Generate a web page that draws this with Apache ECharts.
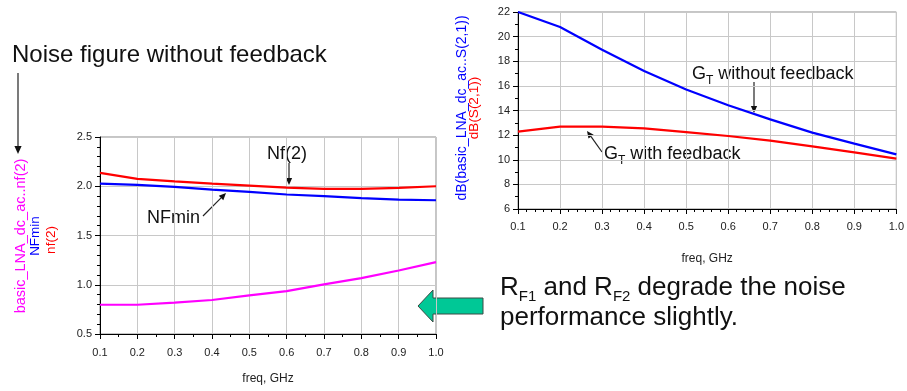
<!DOCTYPE html>
<html>
<head>
<meta charset="utf-8">
<script src="https://cdn.jsdelivr.net/npm/echarts@6/dist/echarts.min.js"></script>
<style>
  html, body { margin: 0; padding: 0; background: #fff; }
  #chart { width: 907px; height: 391px; }
</style>
</head>
<body>
<div id="chart"></div>
<script>
// 频率点 (GHz)
const freq = [0.1, 0.2, 0.3, 0.4, 0.5, 0.6, 0.7, 0.8, 0.9, 1.0];

// 左图：噪声系数
const nfFeedback = [2.135, 2.074, 2.05, 2.027, 2.007, 1.986, 1.973, 1.973, 1.983, 2.0]; // nf(2)
const nfMin = [2.027, 2.014, 1.993, 1.966, 1.943, 1.916, 1.9, 1.88, 1.865, 1.858];     // NFmin
const nfNoFeedback = [0.797, 0.797, 0.818, 0.845, 0.892, 0.936, 1.003, 1.068, 1.145, 1.23];

// 右图：增益 dB(S21)
const gtNoFeedback = [22.0, 20.78, 18.94, 17.2, 15.7, 14.42, 13.28, 12.2, 11.31, 10.44];
const gtFeedback = [12.28, 12.69, 12.69, 12.55, 12.25, 11.93, 11.55, 11.09, 10.6, 10.09];

const FONT = 'Liberation Sans, Arial, sans-serif';
const pairs = arr => freq.map((f, i) => [f, arr[i]]);

const chart = echarts.init(document.getElementById('chart'));

function xAxisCfg(gridIndex, minorSplit, labelMargin, nameGap) {
  return {
    type: 'value', gridIndex, min: 0.1, max: 1.0, interval: 0.1,
    name: 'freq, GHz', nameLocation: 'middle', nameGap,
    nameTextStyle: { color: '#222', fontSize: 12, fontFamily: FONT },
    axisLine: { show: true, onZero: false, lineStyle: { color: '#000', width: 1 } },
    axisTick: { show: true, length: 5, lineStyle: { color: '#000' } },
    minorTick: { show: true, splitNumber: minorSplit, length: 3, lineStyle: { color: '#000' } },
    axisLabel: { color: '#222', fontSize: 11, fontFamily: FONT, margin: labelMargin,
      formatter: v => v.toFixed(1) },
    splitLine: { show: true, lineStyle: { color: '#c8c8c8', width: 1 } }
  };
}

function yAxisCfg(gridIndex, min, max, interval, minorSplit, fmt) {
  return {
    type: 'value', gridIndex, min, max, interval,
    axisLine: { show: true, lineStyle: { color: '#000', width: 1 } },
    axisTick: { show: true, length: 5, lineStyle: { color: '#000' } },
    minorTick: { show: true, splitNumber: minorSplit, length: 3, lineStyle: { color: '#000' } },
    axisLabel: { color: '#222', fontSize: 11, fontFamily: FONT, margin: 8, formatter: fmt },
    splitLine: { show: true, lineStyle: { color: '#c8c8c8', width: 1 } }
  };
}

function lineSeries(data, color, xi, yi) {
  return {
    type: 'line', xAxisIndex: xi, yAxisIndex: yi, data,
    symbol: 'none', smooth: false, silent: true,
    lineStyle: { color, width: 2.2 }
  };
}

// 注释箭头
function arrow(x1, y1, x2, y2, head) {
  head = head || 7;
  const a = Math.atan2(y2 - y1, x2 - x1);
  const w = head * 0.45;
  const bx = x2 - head * Math.cos(a), by = y2 - head * Math.sin(a);
  return [
    { type: 'line', shape: { x1, y1, x2: bx, y2: by }, style: { stroke: '#222', lineWidth: 1.2 } },
    { type: 'polygon', shape: { points: [
      [x2, y2],
      [bx + w * Math.sin(a), by - w * Math.cos(a)],
      [bx - w * Math.sin(a), by + w * Math.cos(a)]
    ] }, style: { fill: '#111' } }
  ];
}

// 按基线摆放文字，支持下标
const measureCtx = document.createElement('canvas').getContext('2d');
function textWidth(text, size) {
  measureCtx.font = size + 'px ' + FONT;
  return measureCtx.measureText(text).width;
}
function textLine(x, baseline, parts, size, subSize, drop, color) {
  const out = [];
  let cx = x;
  parts.forEach(p => {
    const isSub = Array.isArray(p);
    const t = isSub ? p[0] : p;
    const s = isSub ? subSize : size;
    const b = isSub ? baseline + drop : baseline;
    out.push({
      type: 'text', x: cx, y: b - 0.35 * s,
      style: { text: t, fill: color || '#111', font: s + 'px ' + FONT, verticalAlign: 'middle' }
    });
    cx += textWidth(t, s);
  });
  return out;
}

function vtxt(x, y, text, size, color) {
  return {
    type: 'text', x, y, rotation: Math.PI / 2,
    style: { text, fill: color, font: size + 'px ' + FONT, align: 'center', verticalAlign: 'middle' }
  };
}

const graphics = [].concat(
  textLine(12, 64, ['Noise figure without feedback'], 24),
  arrow(18, 73, 18, 154, 8),
  [
    vtxt(21, 236, 'basic_LNA_dc_ac..nf(2)', 14.5, '#ff00ff'),
    vtxt(35.5, 236, 'NFmin', 13.5, '#0000ff'),
    vtxt(51, 240, 'nf(2)', 13.5, '#ff0000'),
    vtxt(462.5, 108, 'dB(basic_LNA_dc_ac..S(2,1))', 14, '#0000ff'),
    vtxt(474.5, 108, 'dB(S(2,1))', 13.5, '#ff0000')
  ],
  textLine(267, 160, ['Nf(2)'], 18),
  textLine(147, 224, ['NFmin'], 18),
  arrow(289, 163, 289, 185, 7),
  arrow(203, 216, 226, 193, 7),
  textLine(692, 80, ['G', ['T'], ' without feedback'], 18, 12, 5),
  textLine(604, 160, ['G', ['T'], ' with feedback'], 18, 12, 5),
  arrow(754, 82, 754, 113, 7),
  arrow(602, 152, 587, 131, 7),
  [{
    type: 'polygon',
    shape: { points: [[418, 306], [433, 290], [433, 298], [483, 298], [483, 314], [433, 314], [433, 322]] },
    style: { fill: '#00c896', stroke: '#3c4a44', lineWidth: 1 }
  }],
  textLine(500, 297, ['R', ['F1'], ' and R', ['F2'], ' degrade the noise'], 26, 15, 5),
  textLine(500, 327, ['performance slightly.'], 26)
);

chart.setOption({
  animation: false,
  backgroundColor: '#fff',
  textStyle: { fontFamily: FONT },
  grid: [
    { left: 100, right: 471, top: 137, bottom: 57, show: true, borderColor: '#8c8c8c', borderWidth: 1 },
    { left: 518, right: 10, top: 12, bottom: 182, show: true, borderColor: '#8c8c8c', borderWidth: 1 }
  ],
  xAxis: [xAxisCfg(0, 2, 13, 39), xAxisCfg(1, 5, 12, 44)],
  yAxis: [
    yAxisCfg(0, 0.5, 2.5, 0.5, 5, v => v.toFixed(1)),
    yAxisCfg(1, 6, 22, 2, 2, v => String(v))
  ],
  series: [
    lineSeries(pairs(nfFeedback), '#ff0000', 0, 0),
    lineSeries(pairs(nfMin), '#0000ff', 0, 0),
    lineSeries(pairs(nfNoFeedback), '#ff00ff', 0, 0),
    lineSeries(pairs(gtNoFeedback), '#0000ff', 1, 1),
    lineSeries(pairs(gtFeedback), '#ff0000', 1, 1)
  ],
  graphic: graphics
});
</script>
</body>
</html>
